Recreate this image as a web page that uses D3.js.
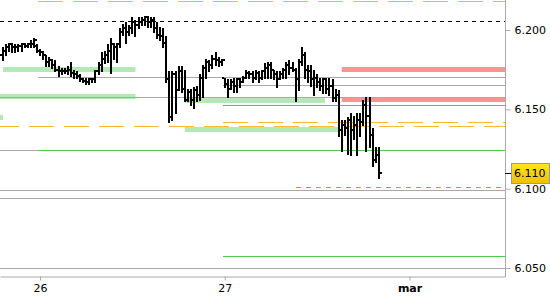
<!DOCTYPE html>
<html>
<head>
<meta charset="utf-8">
<script src="https://cdn.jsdelivr.net/npm/d3@7"></script>
<style>
body { margin: 0; background: #fff; }
svg { display: block; font-family: "DejaVu Sans", Verdana, sans-serif; }
</style>
</head>
<body>
<svg id="chart" width="550" height="300"></svg>
<script>
// OHLC bars, one per slot (approx. 60 slots per trading day)
let open = [6.184, 6.187, 6.189, 6.191, 6.189, 6.189, 6.190, 6.191, 6.190, 6.191,
    6.191, 6.190, 6.187, 6.186, 6.184, 6.180, 6.181, 6.178, 6.175, 6.174,
    6.174, 6.174, 6.175, 6.173, 6.172, 6.171, 6.169, 6.168, 6.167, 6.169,
    6.169, 6.174, 6.178, 6.182, 6.184, 6.187, 6.191, 6.189, 6.191, 6.199,
    6.201, 6.199, 6.201, 6.205, 6.203, 6.205, 6.206, 6.208, 6.205, 6.206,
    6.201, 6.197, 6.196, 6.192, 6.169, 6.145, 6.172, 6.162, 6.174, 6.163,
    6.156, 6.161, 6.156, 6.162, 6.159, 6.170, 6.176, 6.180, 6.178, 6.182,
    6.181, 6.180, 6.170, 6.166, 6.163, 6.167, 6.165, 6.169, 6.167, 6.170,
    6.173, 6.172, 6.170, 6.173, 6.170, 6.174, 6.176, 6.178, 6.175, 6.172,
    6.169, 6.172, 6.175, 6.178, 6.176, 6.175, 6.169, 6.180, 6.184, 6.175,
    6.174, 6.169, 6.170, 6.167, 6.165, 6.169, 6.163, 6.165, 6.157, 6.159,
    6.137, 6.140, 6.138, 6.143, 6.137, 6.140, 6.143, 6.142, 6.153, 6.146,
    6.134, 6.118, 6.121];
let high = [6.189, 6.191, 6.192, 6.192, 6.191, 6.191, 6.192, 6.192, 6.192, 6.194,
    6.195, 6.191, 6.188, 6.187, 6.184, 6.183, 6.182, 6.181, 6.177, 6.176,
    6.176, 6.177, 6.180, 6.175, 6.174, 6.172, 6.170, 6.170, 6.170, 6.170,
    6.175, 6.180, 6.186, 6.187, 6.191, 6.195, 6.192, 6.192, 6.201, 6.204,
    6.205, 6.203, 6.208, 6.206, 6.208, 6.208, 6.209, 6.209, 6.208, 6.208,
    6.205, 6.202, 6.201, 6.196, 6.174, 6.174, 6.174, 6.177, 6.177, 6.175,
    6.163, 6.163, 6.164, 6.165, 6.172, 6.178, 6.182, 6.181, 6.184, 6.186,
    6.183, 6.182, 6.170, 6.169, 6.169, 6.170, 6.170, 6.170, 6.171, 6.175,
    6.174, 6.174, 6.175, 6.174, 6.175, 6.179, 6.180, 6.180, 6.175, 6.174,
    6.174, 6.176, 6.180, 6.181, 6.180, 6.176, 6.182, 6.189, 6.186, 6.178,
    6.178, 6.175, 6.172, 6.170, 6.170, 6.170, 6.170, 6.169, 6.163, 6.162,
    6.143, 6.143, 6.145, 6.148, 6.146, 6.148, 6.148, 6.156, 6.158, 6.158,
    6.138, 6.126, 6.126];
let low = [6.181, 6.184, 6.187, 6.186, 6.186, 6.187, 6.187, 6.189, 6.189, 6.189,
    6.189, 6.186, 6.184, 6.182, 6.177, 6.177, 6.176, 6.174, 6.171, 6.172,
    6.173, 6.172, 6.171, 6.170, 6.170, 6.168, 6.167, 6.166, 6.166, 6.167,
    6.167, 6.172, 6.174, 6.179, 6.180, 6.173, 6.182, 6.180, 6.189, 6.197,
    6.192, 6.197, 6.198, 6.196, 6.201, 6.203, 6.203, 6.202, 6.202, 6.199,
    6.195, 6.194, 6.189, 6.167, 6.142, 6.143, 6.148, 6.162, 6.161, 6.155,
    6.155, 6.153, 6.151, 6.155, 6.156, 6.158, 6.170, 6.174, 6.176, 6.178,
    6.177, 6.178, 6.164, 6.158, 6.163, 6.161, 6.161, 6.164, 6.167, 6.170,
    6.170, 6.167, 6.169, 6.167, 6.169, 6.170, 6.170, 6.170, 6.169, 6.164,
    6.169, 6.170, 6.170, 6.172, 6.174, 6.155, 6.162, 6.178, 6.170, 6.167,
    6.165, 6.159, 6.164, 6.162, 6.160, 6.160, 6.159, 6.155, 6.155, 6.133,
    6.124, 6.134, 6.122, 6.121, 6.131, 6.121, 6.133, 6.140, 6.124, 6.126,
    6.114, 6.117, 6.107];
let close = [6.187, 6.189, 6.191, 6.189, 6.189, 6.190, 6.191, 6.190, 6.191, 6.191,
    6.194, 6.187, 6.186, 6.184, 6.180, 6.181, 6.178, 6.175, 6.174, 6.174,
    6.174, 6.175, 6.173, 6.172, 6.171, 6.169, 6.168, 6.167, 6.169, 6.169,
    6.174, 6.178, 6.182, 6.184, 6.187, 6.191, 6.189, 6.191, 6.199, 6.201,
    6.199, 6.201, 6.205, 6.203, 6.205, 6.206, 6.208, 6.205, 6.206, 6.201,
    6.197, 6.196, 6.192, 6.169, 6.145, 6.172, 6.162, 6.174, 6.163, 6.156,
    6.161, 6.156, 6.162, 6.159, 6.170, 6.176, 6.180, 6.178, 6.182, 6.181,
    6.180, 6.181, 6.166, 6.163, 6.167, 6.165, 6.169, 6.167, 6.170, 6.173,
    6.172, 6.170, 6.173, 6.170, 6.174, 6.176, 6.178, 6.175, 6.172, 6.169,
    6.172, 6.175, 6.178, 6.176, 6.175, 6.169, 6.180, 6.184, 6.175, 6.174,
    6.169, 6.170, 6.167, 6.165, 6.169, 6.163, 6.165, 6.157, 6.159, 6.137,
    6.140, 6.138, 6.143, 6.137, 6.140, 6.143, 6.142, 6.153, 6.146, 6.134,
    6.118, 6.121, 6.110];

let dayTicks = [12, 72, 132];
let dayLabels = ['26', '27', 'mar'];
let priceTicks = [6.05, 6.10, 6.15, 6.20];
let lastPrice = 6.110;

// horizontal levels; "from"/"to" are slot positions
let grayLevels = [6.1704, 6.1654, 6.1578, 6.1242, 6.0992, 6.0941, 6.0500];
let grayFrom = [11.5, 71.5, -1, -1, -1, -1, -1];
let greenLevels = [6.1526, 6.1242, 6.0576];
let greenFrom = [71.5, 11.5, 71.5];
let greenZones = [6.1754, 6.1587, 6.1452, 6.1559, 6.1376];
let greenZoneFrom = [0, -1, -1, 59, 59];
let greenZoneTo = [43, 43, 0, 104.5, 108.8];
let redZones = [6.1754, 6.1565];
let redZoneFrom = [110, 110];
let orangeLevels = [6.2183, 6.1418, 6.1393];
let orangeFrom = [11.5, 71.5, -2.95];
let blackDashLevels = [6.2057];
let blueDashLevels = [6.1009];
let blueDashFrom = [95];

let plotRight = 505;
let plotBottom = 276;
let lastSlot = 163;

let svg = d3.select('#chart');
let xScale = d3.scaleLinear().domain([-1, lastSlot]).range([0, plotRight]);
let yScale = d3.scaleLinear().domain([6.05, 6.20]).range([268, 30]);
let py = v => Math.round(yScale(v)) + 0.5;

let levels = svg.append('g').attr('class', 'levels');

function drawZones(values, from, to, color) {
    levels.append('g')
        .selectAll('rect')
        .data(values)
        .enter()
        .append('rect')
        .attr('x', (d, i) => xScale(from[i]))
        .attr('width', (d, i) => xScale(to ? to[i] : lastSlot) - xScale(from[i]))
        .attr('y', d => Math.round(yScale(d)) - 2)
        .attr('height', 5)
        .attr('fill', color);
}

function drawLines(values, from, color, dash) {
    levels.append('g')
        .selectAll('line')
        .data(values)
        .enter()
        .append('line')
        .attr('x1', (d, i) => xScale(from ? from[i] : -1))
        .attr('x2', xScale(lastSlot))
        .attr('y1', py)
        .attr('y2', py)
        .attr('stroke', color)
        .attr('stroke-width', 1)
        .attr('stroke-dasharray', dash)
        .attr('shape-rendering', 'crispEdges');
}

drawZones(greenZones, greenZoneFrom, greenZoneTo, '#b6e8b6');
drawZones(redZones, redZoneFrom, null, '#ff9393');
drawLines(grayLevels, grayFrom, '#a8a8a8', null);
drawLines(greenLevels, greenFrom, '#4ccb4c', null);
drawLines(orangeLevels, orangeFrom, '#fbb833', '25,10');
drawLines(blackDashLevels, null, '#000', '4,4');
drawLines(blueDashLevels, blueDashFrom, '#6d9ef0', '5,5');

// OHLC bars
let bars = svg.append('g')
    .attr('class', 'bars')
    .attr('fill', '#000')
    .attr('shape-rendering', 'crispEdges');
let gBar = bars.selectAll('g')
    .data(open.map((o, i) => ({i: i, o: o, h: high[i], l: low[i], c: close[i]})))
    .enter()
    .append('g');
gBar.append('rect')
    .attr('x', d => Math.round(xScale(d.i)) - 1)
    .attr('width', 2)
    .attr('y', d => Math.round(yScale(d.h)))
    .attr('height', d => Math.max(2, Math.round(yScale(d.l)) - Math.round(yScale(d.h)) + 1));
gBar.append('rect')
    .attr('x', d => Math.round(xScale(d.i)) - 3)
    .attr('width', 2)
    .attr('y', d => Math.round(yScale(d.o)) - 1)
    .attr('height', 2);
gBar.append('rect')
    .attr('x', d => Math.round(xScale(d.i)) + 1)
    .attr('width', 2)
    .attr('y', d => Math.round(yScale(d.c)) - 1)
    .attr('height', 2);

// frame
svg.append('line')
    .attr('x1', plotRight + 0.5).attr('x2', plotRight + 0.5)
    .attr('y1', 0).attr('y2', plotBottom + 1)
    .attr('stroke', '#aaa');

// bottom axis
let xAxis = svg.append('g')
    .attr('transform', 'translate(0,' + (plotBottom + 0.5) + ')')
    .call(d3.axisBottom(xScale)
        .tickValues(dayTicks)
        .tickFormat((d, i) => dayLabels[i])
        .tickSize(4)
        .tickSizeOuter(0)
        .tickPadding(4));
xAxis.select('.domain').attr('stroke', '#aaa');
xAxis.selectAll('.tick line').attr('stroke', '#aaa');
xAxis.selectAll('.tick text')
    .attr('fill', '#000')
    .style('font-size', '11px')
    .style('font-family', '"DejaVu Sans", Verdana, sans-serif')
    .style('font-weight', (d, i) => isNaN(+dayLabels[i]) ? 'bold' : 'normal');

// right axis
let yAxis = svg.append('g')
    .attr('transform', 'translate(' + (plotRight + 0.5) + ',0)')
    .call(d3.axisRight(yScale)
        .tickValues(priceTicks)
        .tickFormat(d3.format('.3f'))
        .tickSize(5)
        .tickPadding(4));
yAxis.select('.domain').remove();
yAxis.selectAll('.tick line').attr('stroke', '#aaa');
yAxis.selectAll('.tick text')
    .attr('fill', '#000')
    .style('font-size', '11px')
    .style('font-family', '"DejaVu Sans", Verdana, sans-serif');

// last price marker
let grad = svg.append('defs')
    .append('linearGradient')
    .attr('id', 'lastGrad')
    .attr('x1', 0).attr('x2', 0).attr('y1', 0).attr('y2', 1);
grad.append('stop').attr('offset', '0%').attr('stop-color', '#ffe81a');
grad.append('stop').attr('offset', '100%').attr('stop-color', '#f0be00');

let lastY = yScale(lastPrice);
svg.append('line')
    .attr('x1', plotRight).attr('x2', plotRight + 6)
    .attr('y1', Math.round(lastY) + 0.5).attr('y2', Math.round(lastY) + 0.5)
    .attr('stroke', '#000');
svg.append('rect')
    .attr('x', plotRight + 6.5)
    .attr('y', Math.round(lastY) - 9.5)
    .attr('width', 38)
    .attr('height', 20)
    .attr('fill', 'url(#lastGrad)')
    .attr('stroke', '#9a9a9a');
svg.append('text')
    .attr('x', plotRight + 9)
    .attr('y', lastY)
    .attr('dy', '0.36em')
    .style('font-size', '11px')
    .attr('fill', '#000')
    .text(d3.format('.3f')(lastPrice));
</script>
</body>
</html>
